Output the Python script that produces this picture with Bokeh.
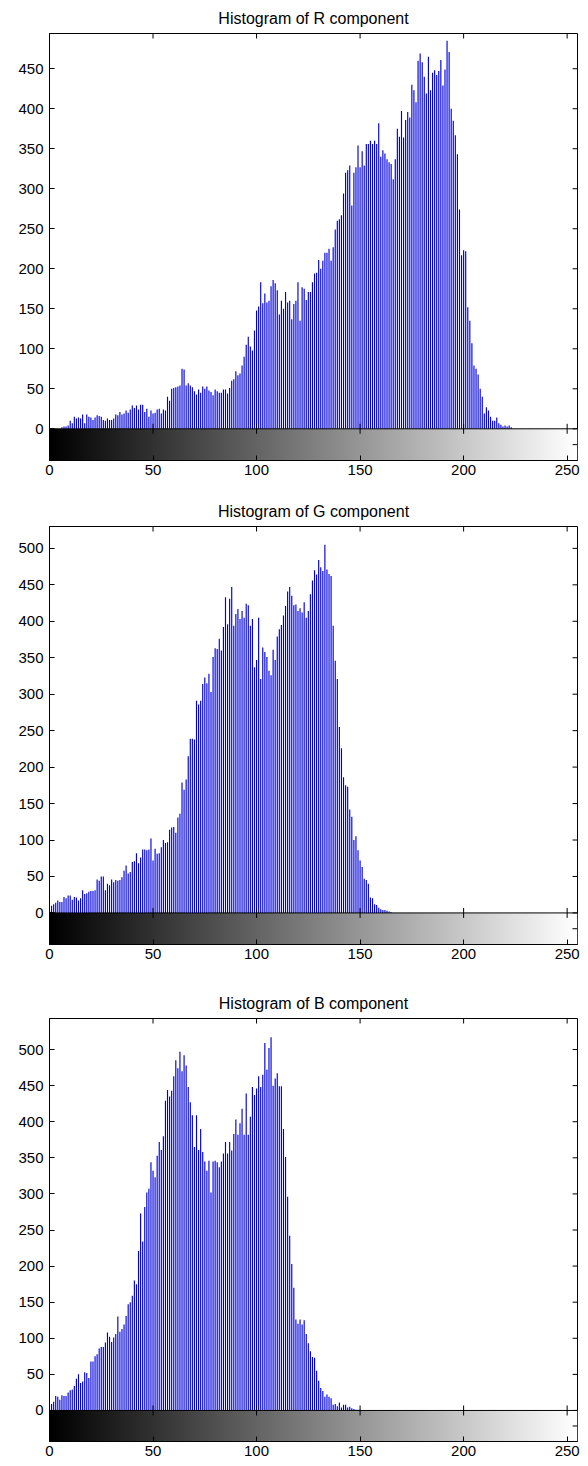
import numpy as np
from bokeh.plotting import figure
from bokeh.layouts import column
from bokeh.models import Range1d, FixedTicker, Span
from bokeh.palettes import Greys256
from bokeh.embed import file_html
from bokeh.resources import INLINE

bins = list(range(256))

r_counts = [
    0, 0, 0, 0, 0, 0, 2, 3, 3, 4,
    10, 7, 15, 13, 14, 13, 18, 7, 18, 15,
    14, 11, 14, 17, 16, 15, 11, 10, 13, 11,
    11, 13, 18, 17, 21, 18, 19, 23, 20, 24,
    29, 26, 29, 24, 30, 30, 21, 25, 15, 23,
    19, 20, 24, 25, 19, 24, 23, 40, 35, 50,
    51, 52, 53, 54, 75, 74, 54, 57, 54, 52,
    47, 43, 49, 45, 53, 50, 53, 48, 46, 42,
    49, 47, 45, 45, 49, 49, 44, 51, 60, 62,
    72, 67, 69, 79, 90, 105, 115, 103, 98, 123,
    148, 153, 183, 157, 169, 158, 160, 178, 186, 182,
    173, 143, 160, 150, 171, 158, 160, 137, 156, 160,
    183, 135, 177, 175, 161, 171, 171, 183, 194, 195,
    211, 200, 210, 220, 220, 225, 210, 227, 249, 260,
    262, 267, 294, 320, 323, 329, 279, 320, 327, 354,
    327, 347, 329, 356, 356, 360, 356, 360, 356, 382,
    340, 348, 344, 337, 333, 331, 312, 337, 375, 365,
    397, 364, 386, 396, 389, 430, 423, 408, 460, 469,
    458, 440, 419, 465, 423, 445, 448, 442, 447, 461,
    429, 449, 485, 471, 400, 385, 367, 343, 274, 217,
    223, 222, 152, 135, 107, 79, 75, 68, 50, 40,
    19, 27, 23, 15, 10, 10, 14, 7, 5, 3,
    4, 3, 4, 2, 0, 0, 0, 0, 0, 0,
    0, 0, 0, 0, 0, 0, 0, 0, 0, 0,
    0, 0, 0, 0, 0, 0, 0, 0, 0, 0,
    0, 0, 0, 0, 0, 0,
]

g_counts = [
    5, 10, 12, 14, 17, 15, 15, 22, 20, 24,
    24, 18, 22, 21, 17, 20, 31, 26, 27, 29,
    30, 30, 31, 46, 44, 50, 50, 31, 40, 38,
    46, 42, 45, 44, 45, 49, 58, 65, 54, 56,
    70, 71, 82, 68, 76, 87, 87, 86, 87, 102,
    72, 88, 81, 82, 90, 100, 96, 97, 114, 117,
    118, 110, 131, 136, 179, 169, 183, 215, 239, 239,
    238, 291, 286, 291, 314, 323, 315, 328, 303, 351,
    363, 362, 376, 360, 392, 433, 396, 431, 447, 394,
    410, 417, 403, 414, 405, 424, 422, 394, 403, 337,
    347, 405, 321, 364, 358, 351, 332, 326, 361, 347,
    379, 389, 395, 408, 421, 441, 447, 435, 422, 423,
    414, 418, 412, 426, 405, 414, 437, 456, 470, 464,
    484, 474, 469, 505, 471, 465, 462, 394, 346, 321,
    255, 226, 186, 175, 173, 142, 132, 100, 105, 86,
    72, 63, 47, 45, 40, 21, 20, 12, 11, 7,
    5, 4, 4, 3, 2, 1, 0, 0, 0, 0,
    0, 0, 0, 0, 0, 0, 0, 0, 0, 0,
    0, 0, 0, 0, 0, 0, 0, 0, 0, 0,
    0, 0, 0, 0, 0, 0, 0, 0, 0, 0,
    0, 0, 0, 0, 0, 0, 0, 0, 0, 0,
    0, 0, 0, 0, 0, 0, 0, 0, 0, 0,
    0, 0, 0, 0, 0, 0, 0, 0, 0, 0,
    0, 0, 0, 0, 0, 0, 0, 0, 0, 0,
    0, 0, 0, 0, 0, 0, 0, 0, 0, 0,
    0, 0, 0, 0, 0, 0,
]

b_counts = [
    8, 9, 12, 20, 19, 15, 21, 20, 20, 25,
    28, 29, 34, 44, 50, 38, 40, 53, 52, 45,
    68, 68, 75, 78, 86, 88, 88, 94, 108, 102,
    95, 101, 106, 130, 109, 113, 119, 131, 147, 150,
    159, 180, 175, 221, 273, 234, 282, 302, 307, 344,
    332, 323, 353, 372, 361, 380, 429, 444, 435, 443,
    463, 485, 474, 497, 470, 492, 478, 448, 427, 409,
    365, 409, 361, 390, 358, 345, 332, 346, 302, 345,
    346, 344, 337, 345, 356, 372, 356, 372, 360, 383,
    403, 382, 398, 418, 382, 439, 382, 407, 448, 437,
    446, 463, 448, 465, 509, 472, 502, 517, 450, 460,
    467, 449, 449, 390, 351, 296, 242, 203, 170, 126,
    120, 126, 119, 125, 106, 93, 82, 74, 73, 55,
    41, 31, 27, 19, 22, 19, 17, 8, 9, 6,
    11, 4, 8, 8, 4, 5, 3, 2, 1, 1,
    1, 0, 0, 0, 0, 0, 0, 0, 0, 0,
    0, 0, 0, 0, 0, 0, 0, 0, 0, 0,
    0, 0, 0, 0, 0, 0, 0, 0, 0, 0,
    0, 0, 0, 0, 0, 0, 0, 0, 0, 0,
    0, 0, 0, 0, 0, 0, 0, 0, 0, 0,
    0, 0, 0, 0, 0, 0, 0, 0, 0, 0,
    0, 0, 0, 0, 0, 0, 0, 0, 0, 0,
    0, 0, 0, 0, 0, 0, 0, 0, 0, 0,
    0, 0, 0, 0, 0, 0, 0, 0, 0, 0,
    0, 0, 0, 0, 0, 0, 0, 0, 0, 0,
    0, 0, 0, 0, 0, 0,
]

x_ticks = [0, 50, 100, 150, 200, 250]
r_yticks = [0, 50, 100, 150, 200, 250, 300, 350, 400, 450]
g_yticks = [0, 50, 100, 150, 200, 250, 300, 350, 400, 450, 500]
b_yticks = [0, 50, 100, 150, 200, 250, 300, 350, 400, 450, 500]

titles = ["Histogram of R component", "Histogram of G component", "Histogram of B component"]

FONT = "Liberation Sans"
X_MAX = 255
TICK = 5  # tick length in px


def make_hist(title, counts, yticks, ytop, ystrip, width, height, bl, br, bt, bb, standoff):
    p = figure(width=width, height=height, min_border_left=bl, min_border_right=br,
               min_border_top=bt, min_border_bottom=bb,
               x_range=Range1d(0, X_MAX), y_range=Range1d(-ystrip, ytop),
               output_backend="svg", toolbar_location=None, tools="")
    p.background_fill_color = "white"
    p.border_fill_color = "white"
    p.grid.visible = False
    p.outline_line_color = "black"
    p.outline_line_width = 1

    p.title.text = title
    p.title.align = "center"
    p.title.text_font = FONT
    p.title.text_font_size = "16px"
    p.title.text_font_style = "normal"
    p.title.text_color = "black"
    p.title.standoff = standoff

    # px -> data units, from the frame size
    fw = width - bl - br
    fh = height - bt - bb
    dx = TICK * X_MAX / fw
    dy = TICK * (ytop + ystrip) / fh

    # gray-level bar under the stems
    grad = np.arange(256).reshape(1, 256)
    p.image(image=[grad], x=0, y=-ystrip, dw=X_MAX, dh=ystrip, palette=Greys256)

    # stems
    p.segment(x0=bins, y0=[0] * len(bins), x1=bins, y1=counts,
              line_color="#0000dd", line_width=1.15)

    # baseline between stems and gray bar, ticks crossing it
    p.add_layout(Span(location=0, dimension="width", line_color="black", line_width=1))
    n = len(x_ticks)
    p.segment(x0=x_ticks, y0=[-dy] * n, x1=x_ticks, y1=[dy] * n,
              line_color="black", line_width=1)
    # inward ticks along the top edge
    p.segment(x0=x_ticks, y0=[ytop] * n, x1=x_ticks, y1=[ytop - dy] * n,
              line_color="black", line_width=1)
    # inward ticks along the right edge (value ticks plus the gray bar's middle)
    rt = yticks + [-ystrip / 2]
    m = len(rt)
    p.segment(x0=[X_MAX] * m, y0=rt, x1=[X_MAX - dx] * m, y1=rt,
              line_color="black", line_width=1)

    for ax in (p.xaxis[0], p.yaxis[0]):
        ax.major_tick_in = TICK
        ax.major_tick_out = 0
        ax.minor_tick_line_color = None
        ax.axis_line_color = "black"
        ax.major_tick_line_color = "black"
        ax.major_label_text_font = FONT
        ax.major_label_text_font_size = "15px"
        ax.major_label_text_color = "black"
    p.xaxis[0].ticker = FixedTicker(ticks=x_ticks)
    p.yaxis[0].ticker = FixedTicker(ticks=yticks)
    p.xaxis[0].major_label_standoff = 4
    p.yaxis[0].major_label_standoff = 6
    return p


# Bokeh's page template has no body margin: figures start at the page's top-left corner.
p1 = make_hist(titles[0], r_counts, r_yticks, 494, 39.6, 588, 490, 44, 5, 33, 30, 13)
p2 = make_hist(titles[1], g_counts, g_yticks, 530, 43.3, 588, 492, 47, 11, 36, 38, 13)
p3 = make_hist(titles[2], b_counts, b_yticks, 543, 43.0, 588, 482, 49, 2, 36, 23, 13)

layout = column(p1, p2, p3, spacing=0)
open("out.html", "w").write(file_html(layout, INLINE))
